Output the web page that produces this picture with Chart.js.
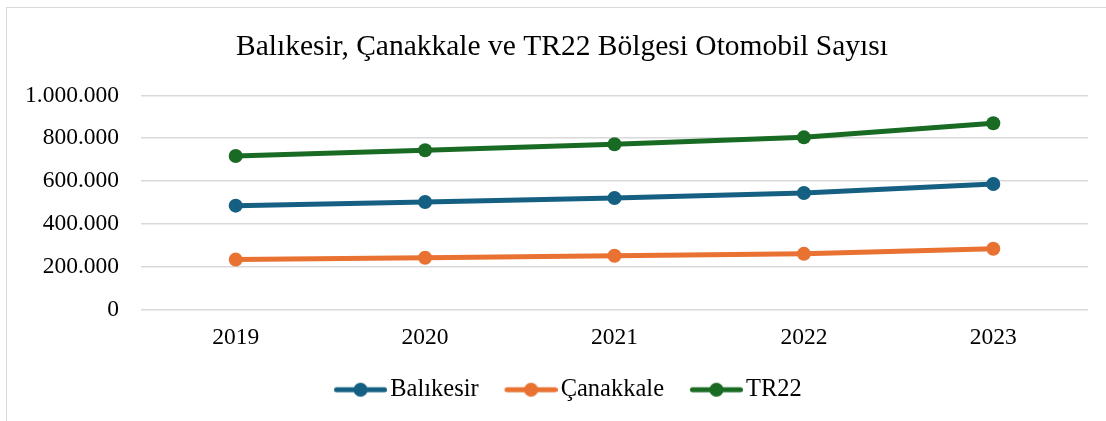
<!DOCTYPE html>
<html>
<head>
<meta charset="utf-8">
<script src="https://cdn.jsdelivr.net/npm/chart.js@4"></script>
<style>
  body { margin: 0; background: #fff; }
  #wrap { position: relative; width: 1106px; height: 421px; overflow: hidden; }
  #frame { position: absolute; left: 6px; top: 7px; width: 1120px; height: 440px; border: 1px solid #d9d9d9; box-sizing: border-box; }
  canvas { position: absolute; left: 0; top: 0; }
</style>
</head>
<body>
<div id="wrap">
  <div id="frame"></div>
  <canvas id="chart" width="1106" height="421"></canvas>
</div>
<script>
const years = ['2019', '2020', '2021', '2022', '2023'];
const balikesir = [485000, 502000, 521000, 544000, 586000];
const canakkale = [233000, 242000, 251000, 260000, 284000];
const tr22 = [717000, 744000, 772000, 804000, 870000];
const seriesNames = ['Balıkesir', 'Çanakkale', 'TR22'];
const seriesColors = ['#156082', '#E97132', '#196B24'];

const serif = '"Liberation Serif", "Times New Roman", serif';

function formatDots(v) {
    return String(v).replace(/\B(?=(\d{3})+(?!\d))/g, '.');
}

// legend marker: line with a dot in the middle, drawn on the right part
// of the image so it sits close to the label text
function legendMarker(color) {
    const c = document.createElement('canvas');
    c.width = 74;
    c.height = 16;
    const g = c.getContext('2d');
    g.strokeStyle = color;
    g.lineWidth = 5;
    g.lineCap = 'round';
    g.beginPath();
    g.moveTo(23.5, 8);
    g.lineTo(71.5, 8);
    g.stroke();
    g.fillStyle = color;
    g.beginPath();
    g.arc(47.5, 8, 7, 0, Math.PI * 2);
    g.fill();
    return c;
}

// the original chart frame is a bit wider than the picture, so title and
// legend are centred slightly to the right of the canvas middle
const shiftCentre = {
    id: 'shiftCentre',
    afterLayout(chart) {
        chart.titleBlock.right += 36;
        chart.legend.right += 36;
    }
};

const datasets = [balikesir, canakkale, tr22].map((values, i) => ({
    label: seriesNames[i],
    data: values,
    borderColor: seriesColors[i],
    backgroundColor: seriesColors[i],
    borderWidth: 5,
    pointStyle: 'circle',
    pointRadius: 7,
    pointHoverRadius: 7,
    pointBorderWidth: 0,
    tension: 0
}));

const ctx = document.getElementById('chart').getContext('2d');
new Chart(ctx, {
    type: 'line',
    data: { labels: years, datasets: datasets },
    plugins: [shiftCentre],
    options: {
        responsive: false,
        animation: false,
        layout: { padding: { top: 10, right: 18, bottom: 9, left: 0 } },
        plugins: {
            title: {
                display: true,
                text: 'Balıkesir, Çanakkale ve TR22 Bölgesi Otomobil Sayısı',
                color: '#000',
                font: { family: serif, size: 29.5, weight: 'normal' },
                padding: { top: 20, bottom: 30 }
            },
            legend: {
                position: 'bottom',
                labels: {
                    usePointStyle: true,
                    pointStyleWidth: 55.75,
                    color: '#000',
                    font: { family: serif, size: 24.5 },
                    padding: 14,
                    generateLabels: chart => chart.data.datasets.map((ds, i) => ({
                        text: ds.label,
                        pointStyle: legendMarker(seriesColors[i]),
                        fillStyle: seriesColors[i],
                        strokeStyle: seriesColors[i],
                        lineWidth: 0,
                        datasetIndex: i
                    }))
                }
            },
            tooltip: { enabled: false }
        },
        scales: {
            x: {
                offset: true,
                afterFit: scale => { scale.height = 54; },
                grid: { display: false, drawTicks: false },
                border: { display: false },
                ticks: { color: '#000', font: { family: serif, size: 23.5 }, padding: 14 }
            },
            y: {
                min: 0,
                max: 1000000,
                afterFit: scale => { scale.width = 141; },
                grid: { color: '#d9d9d9', lineWidth: 1.5, drawTicks: false },
                border: { display: false },
                ticks: {
                    stepSize: 200000,
                    color: '#000',
                    font: { family: serif, size: 23.5 },
                    padding: 22,
                    callback: v => formatDots(v)
                }
            }
        }
    }
});
</script>
</body>
</html>
